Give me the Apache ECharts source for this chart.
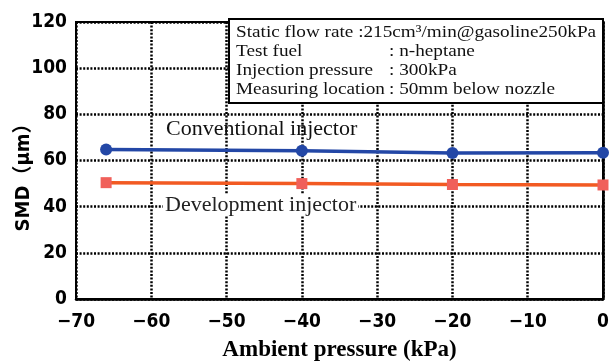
<!DOCTYPE html>
<html lang="en">
<head>
    <meta charset="UTF-8">
    <title>SMD vs ambient pressure</title>
    <script src="https://cdn.jsdelivr.net/npm/echarts@6/dist/echarts.min.js"></script>
    <style>
        html, body { margin: 0; padding: 0; background: #fff; }
        #main { width: 610px; height: 363px; }
    </style>
</head>
<body>
    <div id="main"></div>
    <script>
        // data
        var pressures = [-66, -40, -20, 0];
        var conventional = [64.8, 64.2, 63.2, 63.4];
        var development = [50.4, 50.0, 49.6, 49.4];
        var xTicks = [-70, -60, -50, -40, -30, -20, -10, 0];
        var yTicks = [0, 20, 40, 60, 80, 100, 120];
        var noteLabels = ['Static flow rate :215cm³/min@gasoline250kPa', 'Test fuel', 'Injection pressure', 'Measuring location'];
        var noteValues = ['', ': n-heptane', ': 300kPa', ': 50mm below nozzle'];

        var tickFont = '"Liberation Sans Narrow", "DejaVu Sans Condensed", "Liberation Sans", Arial, sans-serif';
        var serif = '"Liberation Serif", "DejaVu Serif", serif';

        function pairs(ys) {
            return pressures.map(function (x, i) { return [x, ys[i]]; });
        }

        // note box (text is a bit stretched in the original)
        var noteGraphics = [{
            type: 'rect',
            shape: { x: 229, y: 19, width: 374, height: 84 },
            style: { fill: '#fff', stroke: '#000', lineWidth: 2 },
            z: 100
        }];
        noteLabels.forEach(function (t, i) {
            noteGraphics.push({
                type: 'text', x: 236, y: 33 + i * 19, scaleX: 1.13, z: 101,
                style: { text: t, font: '17px ' + serif, fill: '#111', verticalAlign: 'middle' }
            });
            if (noteValues[i]) {
                noteGraphics.push({
                    type: 'text', x: 389, y: 33 + i * 19, scaleX: 1.13, z: 101,
                    style: { text: noteValues[i], font: '17px ' + serif, fill: '#111', verticalAlign: 'middle' }
                });
            }
        });

        var myChart = echarts.init(document.getElementById('main'));

        var option = {
            animation: false,
            grid: {
                left: 76, right: 7, top: 22, bottom: 64,
                outerBoundsMode: 'none', containLabel: false,
                show: true, borderColor: '#000', borderWidth: 2, backgroundColor: '#fff'
            },
            xAxis: {
                type: 'value',
                min: xTicks[0], max: xTicks[xTicks.length - 1], interval: 10,
                name: 'Ambient pressure (kPa)',
                nameLocation: 'middle', nameGap: 40, nameMoveOverlap: false,
                nameTextStyle: { fontFamily: serif, fontWeight: 'bold', fontSize: 23, color: '#000' },
                axisLine: { lineStyle: { color: '#000', width: 2.5 } },
                axisTick: { show: false },
                axisLabel: {
                    margin: 14, fontFamily: tickFont, fontWeight: 'bold', fontSize: 19, color: '#000',
                    formatter: function (v) { return v < 0 ? '\u2212' + Math.abs(v) : String(v); }
                },
                splitLine: { lineStyle: { color: '#000', width: 2.5, type: [2, 1.6] } }
            },
            yAxis: {
                type: 'value',
                min: yTicks[0], max: yTicks[yTicks.length - 1], interval: 20,
                name: 'SMD（μm）',
                nameLocation: 'middle', nameGap: 42, nameMoveOverlap: false,
                nameTextStyle: { fontFamily: tickFont + ', "Noto Sans CJK JP"', fontWeight: 'bold', fontSize: 20, color: '#000', padding: [0, 24, 0, 0] },
                axisLine: { lineStyle: { color: '#000', width: 2.5 } },
                axisTick: { show: false },
                axisLabel: { margin: 9, fontFamily: tickFont, fontWeight: 'bold', fontSize: 19, color: '#000' },
                splitLine: { lineStyle: { color: '#000', width: 2.5, type: [2, 1.6] } }
            },
            series: [
                {
                    name: 'Conventional injector',
                    type: 'line',
                    data: pairs(conventional),
                    symbol: 'circle', symbolSize: 12,
                    lineStyle: { color: '#2347a6', width: 3.5 },
                    itemStyle: { color: '#2347a6' },
                    z: 5
                },
                {
                    name: 'Development injector',
                    type: 'line',
                    data: pairs(development),
                    symbol: 'rect', symbolSize: 11,
                    lineStyle: { color: '#f25a22', width: 3.5 },
                    itemStyle: { color: '#f0605a' },
                    z: 5
                }
            ],
            graphic: noteGraphics.concat([
                {
                    type: 'text', x: 166, y: 129, z: 50,
                    style: { text: 'Conventional injector', font: '22px ' + serif, fill: '#111', verticalAlign: 'middle' }
                },
                {
                    type: 'text', x: 163, y: 205, z: 50,
                    style: { text: 'Development injector', font: '22px ' + serif, fill: '#222', verticalAlign: 'middle', backgroundColor: '#fff', padding: [0, 2] }
                }
            ])
        };

        myChart.setOption(option);
    </script>
</body>
</html>
